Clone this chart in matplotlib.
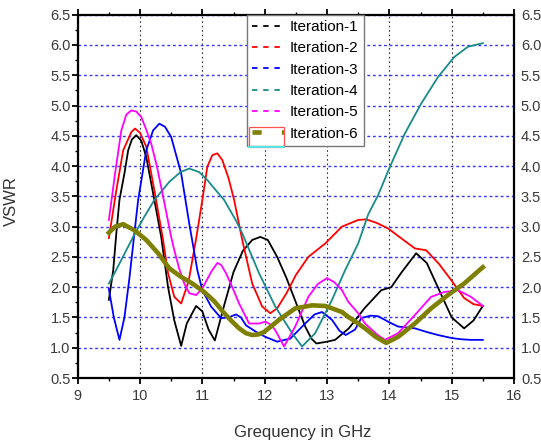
import matplotlib
matplotlib.use("Agg")
import matplotlib.pyplot as plt
from matplotlib.lines import Line2D
from matplotlib.patches import Rectangle
from matplotlib.ticker import MultipleLocator

plt.rcParams['font.family'] = ['Liberation Sans', 'DejaVu Sans']

# values (GHz, VSWR)
x1 = [9.5, 9.57, 9.62, 9.67, 9.75, 9.81, 9.87, 9.94, 10.02, 10.1, 10.23, 10.34, 10.45, 10.55,
      10.66, 10.75, 10.9, 11.0, 11.1, 11.2, 11.35, 11.5, 11.65, 11.8, 11.93, 12.05, 12.2, 12.35,
      12.5, 12.65, 12.75, 12.83, 13.0, 13.13, 13.35, 13.6, 13.87, 14.03, 14.2, 14.43, 14.6, 14.8,
      15.0, 15.2, 15.35, 15.5]
y1 = [1.79, 2.28, 2.89, 3.44, 3.88, 4.26, 4.44, 4.51, 4.42, 4.15, 3.44, 2.83, 2.0, 1.45,
      1.03, 1.4, 1.69, 1.6, 1.3, 1.12, 1.7, 2.25, 2.6, 2.78, 2.83, 2.78, 2.5, 2.15,
      1.75, 1.35, 1.15, 1.07, 1.1, 1.13, 1.32, 1.65, 1.95, 2.0, 2.25, 2.56, 2.4, 1.95,
      1.5, 1.32, 1.45, 1.69]

x2 = [9.5, 9.62, 9.73, 9.86, 9.92, 10.0, 10.1, 10.23, 10.37, 10.45, 10.55, 10.66, 10.78, 10.9,
      11.0, 11.08, 11.16, 11.24, 11.32, 11.42, 11.51, 11.64, 11.8, 11.96, 12.09, 12.2, 12.35,
      12.5, 12.7, 12.97, 13.24, 13.5, 13.63, 13.8, 13.98, 14.2, 14.41, 14.59, 14.8, 14.99, 15.2,
      15.35, 15.5]
y2 = [2.81, 3.6, 4.26, 4.56, 4.62, 4.55, 4.32, 3.6, 2.78, 2.23, 1.84, 1.73, 2.1, 2.8,
      3.44, 3.99, 4.18, 4.21, 4.1, 3.8, 3.44, 2.78, 2.06, 1.68, 1.57, 1.65, 1.9,
      2.2, 2.5, 2.72, 3.0, 3.11, 3.12, 3.06, 2.97, 2.8, 2.64, 2.61, 2.38, 2.12, 1.82,
      1.72, 1.69]

x3 = [9.5, 9.58, 9.67, 9.75, 9.83, 9.9, 9.97, 10.1, 10.21, 10.31, 10.4, 10.5, 10.66, 10.79,
      10.92, 11.0, 11.14, 11.3, 11.42, 11.54, 11.62, 11.7, 11.85, 12.01, 12.2, 12.41, 12.65,
      12.8, 12.92, 13.08, 13.2, 13.3, 13.45, 13.55, 13.7, 13.82, 14.0, 14.14, 14.41, 14.6,
      14.78, 15.0, 15.15, 15.3, 15.5]
y3 = [1.97, 1.5, 1.13, 1.5, 2.15, 2.8, 3.44, 4.26, 4.59, 4.7, 4.65, 4.48, 3.88, 3.05,
      2.28, 1.95, 1.68, 1.49, 1.5, 1.55, 1.5, 1.37, 1.27, 1.18, 1.1, 1.15, 1.4,
      1.55, 1.59, 1.46, 1.28, 1.21, 1.3, 1.49, 1.53, 1.52, 1.42, 1.35, 1.32, 1.26,
      1.21, 1.16, 1.14, 1.13, 1.13]

x4 = [9.5, 9.6, 9.7, 9.8, 9.9, 10.05, 10.23, 10.47, 10.65, 10.79, 10.95, 11.08, 11.2, 11.35,
      11.54, 11.64, 11.91, 12.17, 12.44, 12.6, 12.81, 13.08, 13.29, 13.5, 13.66, 13.82, 14.01,
      14.25, 14.51, 14.78, 15.04, 15.26, 15.5]
y4 = [2.06, 2.25, 2.45, 2.65, 2.85, 3.13, 3.44, 3.74, 3.9, 3.96, 3.9, 3.77, 3.62, 3.44,
      3.1, 2.89, 2.23, 1.68, 1.24, 1.02, 1.24, 1.79, 2.28, 2.72, 3.2, 3.52, 3.99,
      4.54, 5.03, 5.47, 5.8, 5.97, 6.03]

x5 = [9.5, 9.6, 9.7, 9.78, 9.86, 9.94, 10.02, 10.1, 10.18, 10.27, 10.37, 10.5, 10.55, 10.63,
      10.71, 10.79, 10.9, 11.0, 11.14, 11.24, 11.3, 11.38, 11.48, 11.59, 11.75, 11.91, 12.01,
      12.1, 12.17, 12.31, 12.49, 12.7, 12.85, 13.0, 13.12, 13.24, 13.34, 13.5, 13.61, 13.8,
      13.93, 14.14, 14.41, 14.67, 14.88, 15.1, 15.31, 15.5]
y5 = [3.11, 3.88, 4.59, 4.85, 4.92, 4.9, 4.81, 4.6, 4.37, 4.0, 3.5, 2.83, 2.61, 2.3,
      2.06, 1.9, 1.87, 1.98, 2.25, 2.4, 2.37, 2.23, 2.0, 1.73, 1.4, 1.4, 1.43,
      1.38, 1.29, 1.02, 1.35, 1.84, 2.05, 2.15, 2.08, 1.95, 1.76, 1.57, 1.4, 1.22,
      1.13, 1.24, 1.54, 1.84, 1.92, 1.95, 1.84, 1.69]

x6 = [9.5, 9.6, 9.73, 9.91, 10.1, 10.29, 10.47, 10.66, 10.84, 11.03, 11.19, 11.35, 11.47,
      11.59, 11.7, 11.8, 11.9, 11.99, 12.1, 12.23, 12.49, 12.76, 12.97, 13.24, 13.34, 13.5,
      13.61, 13.78, 13.95, 14.14, 14.41, 14.67, 14.94, 15.2, 15.5]
y6 = [2.9, 3.0, 3.04, 2.94, 2.78, 2.56, 2.31, 2.17, 2.06, 1.92, 1.77, 1.57, 1.44,
      1.32, 1.24, 1.21, 1.22, 1.26, 1.35, 1.46, 1.65, 1.7, 1.69, 1.59, 1.51, 1.4,
      1.32, 1.18, 1.08, 1.18, 1.4, 1.65, 1.87, 2.06, 2.33]

labels = ['Iteration-1', 'Iteration-2', 'Iteration-3', 'Iteration-4', 'Iteration-5', 'Iteration-6']
colors = ['#000000', '#ff0000', '#0000ff', '#1a8a8a', '#ff00ff', '#808000']
series = [(x1, y1), (x2, y2), (x3, y3), (x4, y4), (x5, y5), (x6, y6)]

fig = plt.figure(figsize=(5.41, 4.4), dpi=100)
ax = fig.add_axes([0.1436, 0.1409, 0.8065, 0.8257])

for i, (xs, ys) in enumerate(series):
    lw = 3.3 if i == 5 else 1.3
    ax.plot(xs, ys, color=colors[i], lw=lw, zorder=3 + (i == 5))

ax.set_xlim(9, 16)
ax.set_ylim(0.5, 6.5)
ax.xaxis.set_major_locator(MultipleLocator(1))
ax.xaxis.set_minor_locator(MultipleLocator(0.5))
ax.yaxis.set_major_locator(MultipleLocator(0.5))
ax.yaxis.set_minor_locator(MultipleLocator(0.25))
ax.yaxis.set_major_formatter(matplotlib.ticker.FormatStrFormatter('%.1f'))

ax.grid(axis='x', which='major', color='#333333', lw=0.8, linestyle=(0, (1.5, 2.5)))
ax.grid(axis='y', which='major', color='#3535ff', lw=1.0, linestyle=(0, (2, 2)))
ax.set_axisbelow(True)

for sp in ax.spines.values():
    sp.set_linewidth(1.6)

ax.tick_params(axis='both', which='major', direction='out', length=4, width=1.3,
               labelsize=10.5, labelcolor='#3a3a3a', top=True)
ax.tick_params(axis='both', which='minor', direction='out', length=2.5, width=1.0, top=True)
ax.tick_params(axis='y', which='both', right=False, labelright=True, pad=1.0)
ax.tick_params(axis='x', which='major', pad=4)

ax.set_xlabel('Grequency in GHz', fontsize=12, color='#333333')
ax.set_ylabel('VSWR', fontsize=12, color='#333333')
ax.xaxis.set_label_coords(0.516, -0.129)
ax.yaxis.set_label_coords(-0.135, 0.487)

handles = []
for i in range(6):
    if i == 5:
        h = Line2D([], [], color=colors[i], lw=3.3, linestyle=(0, (2.0, 4.4)))
    else:
        h = Line2D([], [], color=colors[i], lw=1.3, linestyle=(0, (3.0, 3.2)))
    handles.append(h)

leg = ax.legend(handles, labels, loc='upper left', bbox_to_anchor=(0.387, 1.0),
                borderaxespad=0, fontsize=11, frameon=True, fancybox=False,
                edgecolor='#777777', framealpha=1, handlelength=2.1,
                handletextpad=0.4, labelspacing=0.48, borderpad=0.35)
leg.get_frame().set_linewidth(1.0)

# stray red box / cyan edge around the last legend handle in the original
fig.patches.append(Rectangle((249 / 541, 1 - 146.5 / 440), 35 / 541, 19 / 440,
                             transform=fig.transFigure, fill=False,
                             edgecolor='#ff5050', lw=0.9, zorder=10))
fig.lines.append(Line2D([249 / 541, 284 / 541], [1 - 146.5 / 440, 1 - 146.5 / 440],
                        transform=fig.transFigure, color='#40ffff', lw=1.2, zorder=11))

fig.savefig('out.png', dpi=100)
